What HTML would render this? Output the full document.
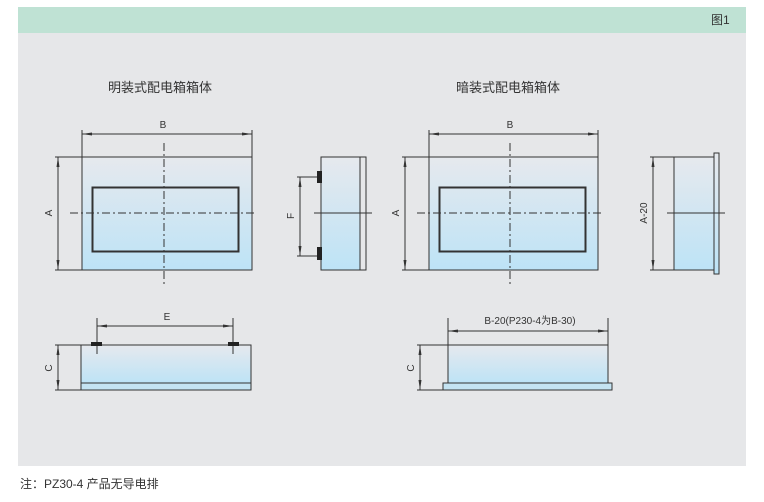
<!DOCTYPE html>
<html><head><meta charset="utf-8"><style>
html,body{margin:0;padding:0;background:#fff;}
svg{display:block;}
text{font-family:"Liberation Sans","Noto Sans CJK SC",sans-serif;fill:#333;}
</style></head><body>
<svg width="764" height="502" viewBox="0 0 764 502" xmlns="http://www.w3.org/2000/svg">
<defs>
<linearGradient id="g" x1="0" y1="0" x2="0" y2="1">
<stop offset="0" stop-color="#e6e9ee"/><stop offset="1" stop-color="#bde3f6"/></linearGradient>
<marker id="a" viewBox="0 0 10 6" refX="10" refY="3" markerWidth="10" markerHeight="6" orient="auto-start-reverse" markerUnits="userSpaceOnUse"><path d="M0,1.5 L10,3 L0,4.5z" fill="#333"/></marker>
</defs>
<rect x="18" y="7" width="728" height="26" fill="#bfe2d4"/>
<rect x="18" y="33" width="728" height="433" fill="#e6e7e9"/>
<text x="711" y="24" font-size="12">图1</text>
<text x="108" y="92" font-size="13">明装式配电箱箱体</text>
<text x="456" y="92" font-size="13">暗装式配电箱箱体</text>
<text x="20" y="488" font-size="12">注：PZ30-4 产品无导电排</text>
<g stroke="#333" stroke-width="1" fill="none">
<!-- left front -->
<rect x="82" y="157" width="170" height="113" fill="url(#g)"/>
<rect x="92.5" y="187.5" width="146" height="64" stroke-width="2"/>
<line x1="164" y1="143" x2="164" y2="285" stroke-dasharray="8,3,2,3"/>
<line x1="70" y1="213" x2="256" y2="213" stroke-dasharray="8,3,2,3"/>
<line x1="82" y1="130" x2="82" y2="157"/><line x1="252" y1="130" x2="252" y2="157"/>
<line x1="82" y1="134" x2="252" y2="134" marker-start="url(#a)" marker-end="url(#a)"/>
<line x1="55" y1="157" x2="82" y2="157"/><line x1="55" y1="270" x2="82" y2="270"/>
<line x1="58" y1="157" x2="58" y2="270" marker-start="url(#a)" marker-end="url(#a)"/>
<!-- left side -->
<rect x="321" y="157" width="39" height="113" fill="url(#g)"/>
<rect x="360" y="157" width="6" height="113"/>
<line x1="297" y1="177" x2="320" y2="177"/><line x1="297" y1="256" x2="320" y2="256"/>
<line x1="300" y1="177" x2="300" y2="256" marker-start="url(#a)" marker-end="url(#a)"/>
<line x1="314" y1="213" x2="372" y2="213"/>
<!-- right front -->
<rect x="429" y="157" width="169" height="113" fill="url(#g)"/>
<rect x="439.5" y="187.5" width="146" height="64" stroke-width="2"/>
<line x1="510" y1="143" x2="510" y2="285" stroke-dasharray="8,3,2,3"/>
<line x1="417" y1="213" x2="602" y2="213" stroke-dasharray="8,3,2,3"/>
<line x1="429" y1="130" x2="429" y2="157"/><line x1="598" y1="130" x2="598" y2="157"/>
<line x1="429" y1="134" x2="598" y2="134" marker-start="url(#a)" marker-end="url(#a)"/>
<line x1="402" y1="157" x2="429" y2="157"/><line x1="402" y1="270" x2="429" y2="270"/>
<line x1="405" y1="157" x2="405" y2="270" marker-start="url(#a)" marker-end="url(#a)"/>
<!-- right side -->
<rect x="674" y="157" width="40" height="113" fill="url(#g)"/>
<rect x="714" y="153" width="5" height="121" fill="url(#g)"/>
<line x1="650" y1="157" x2="674" y2="157"/><line x1="650" y1="270" x2="674" y2="270"/>
<line x1="653" y1="157" x2="653" y2="270" marker-start="url(#a)" marker-end="url(#a)"/>
<line x1="667" y1="213" x2="725" y2="213"/>
<!-- bottom left -->
<rect x="81" y="345" width="170" height="38" fill="url(#g)"/>
<rect x="81" y="383" width="170" height="7" fill="#c4e3f2"/>
<line x1="97" y1="318" x2="97" y2="354"/><line x1="233" y1="318" x2="233" y2="354"/>
<line x1="97" y1="326" x2="233" y2="326" marker-start="url(#a)" marker-end="url(#a)"/>
<line x1="55" y1="345" x2="81" y2="345"/><line x1="55" y1="390" x2="85" y2="390"/>
<line x1="58" y1="345" x2="58" y2="390" marker-start="url(#a)" marker-end="url(#a)"/>
<!-- bottom right -->
<rect x="448" y="345" width="160" height="38" fill="url(#g)"/>
<rect x="443" y="383" width="169" height="7" fill="#c4e3f2"/>
<line x1="448" y1="318" x2="448" y2="345"/><line x1="608" y1="318" x2="608" y2="345"/>
<line x1="448" y1="331" x2="608" y2="331" marker-start="url(#a)" marker-end="url(#a)"/>
<line x1="417" y1="345" x2="448" y2="345"/><line x1="417" y1="390" x2="443" y2="390"/>
<line x1="420" y1="345" x2="420" y2="390" marker-start="url(#a)" marker-end="url(#a)"/>
</g>
<g fill="#222">
<rect x="317" y="171" width="5" height="12"/><rect x="317" y="247" width="5" height="13"/>
<rect x="91" y="342" width="11" height="4"/><rect x="228" y="342" width="11" height="4"/>
</g>
<g font-size="10">
<text x="163" y="128" text-anchor="middle">B</text>
<text x="510" y="128" text-anchor="middle">B</text>
<text x="167" y="320" text-anchor="middle">E</text>
<text x="530" y="324" text-anchor="middle">B-20(P230-4为B-30)</text>
<text transform="translate(52,213) rotate(-90)" text-anchor="middle">A</text>
<text transform="translate(399,213) rotate(-90)" text-anchor="middle">A</text>
<text transform="translate(294,216) rotate(-90)" text-anchor="middle">F</text>
<text transform="translate(647,213) rotate(-90)" text-anchor="middle">A-20</text>
<text transform="translate(52,368) rotate(-90)" text-anchor="middle">C</text>
<text transform="translate(414,368) rotate(-90)" text-anchor="middle">C</text>
</g>
</svg>
</body></html>
